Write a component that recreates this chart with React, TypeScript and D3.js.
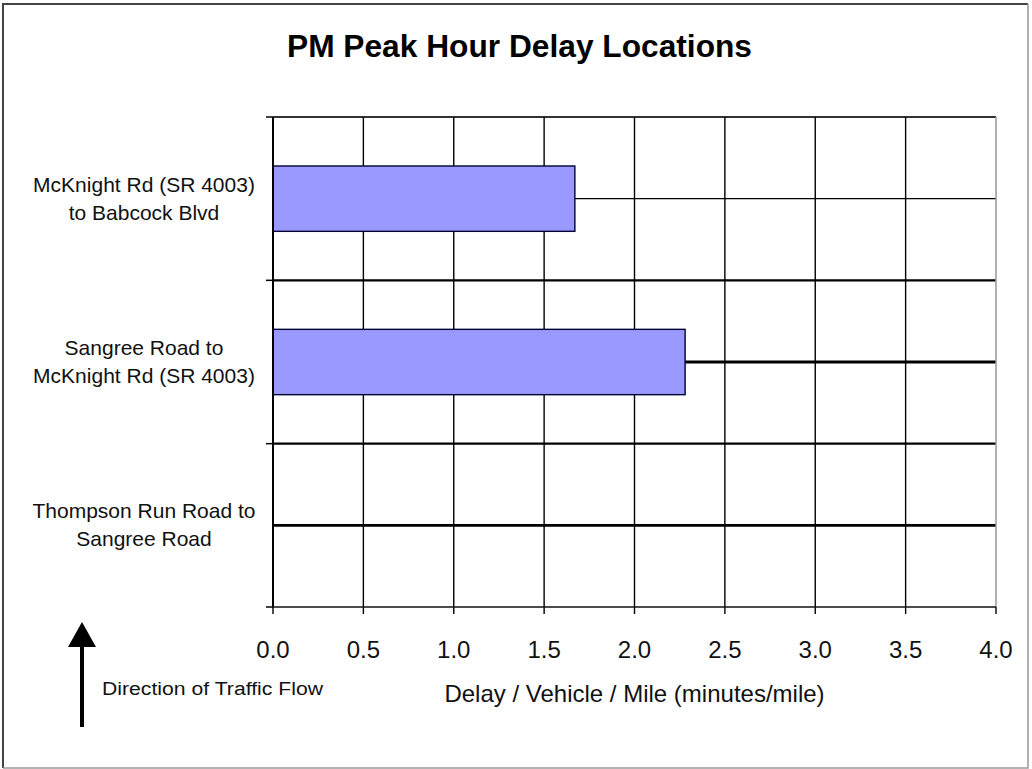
import React from "react";
import * as d3 from "d3";

// chart data
const categoryLines: string[][] = [
  ["McKnight Rd (SR 4003)", "to Babcock Blvd"],
  ["Sangree Road to", "McKnight Rd (SR 4003)"],
  ["Thompson Run Road to", "Sangree Road"],
];
const delays: number[] = [1.67, 2.28, 0];
const xTickValues: number[] = [0, 0.5, 1, 1.5, 2, 2.5, 3, 3.5, 4];
const title = "PM Peak Hour Delay Locations";
const xTitle = "Delay / Vehicle / Mile (minutes/mile)";
const noteText = "Direction of Traffic Flow";

const W = 1032;
const H = 769;
const font = "'Liberation Sans', Arial, sans-serif";

export default function App() {
  const plot = {left: 273, right: 996, top: 117, bottom: 607};

  const x = d3.scaleLinear().domain([0, 4]).range([plot.left, plot.right]);
  const y = d3
    .scaleBand<number>()
    .domain(d3.range(categoryLines.length))
    .range([plot.top, plot.bottom])
    .padding(0);

  const step = y.step();
  const barH = step / 2.5; // gap width 150%
  const centerWidths = [1.2, 2.8, 2.8];
  const boundaries = d3.range(categoryLines.length + 1).map((i) => plot.top + i * step);

  return (
    <svg
      width={W}
      height={H}
      style={{position: "absolute", left: 0, top: 0, background: "#fff"}}
      fontFamily={font}
    >
      {/* outer frame */}
      <path d={`M3,768 V4 H1028`} fill="none" stroke="#444" strokeWidth={2} />
      <path d={`M1028,4 V768 H3`} fill="none" stroke="#999" strokeWidth={1.5} />

      <text
        x={(287 + 752) / 2}
        y={57}
        textAnchor="middle"
        fontSize={32}
        fontWeight="bold"
        textLength={465}
        lengthAdjust="spacingAndGlyphs"
      >
        {title}
      </text>

      {/* lines through category centres */}
      {categoryLines.map((_, i) => (
        <line
          key={"c" + i}
          x1={plot.left}
          x2={plot.right}
          y1={y(i)! + step / 2}
          y2={y(i)! + step / 2}
          stroke="#000"
          strokeWidth={centerWidths[i]}
        />
      ))}

      {/* category boundaries */}
      {boundaries.map((b, i) => (
        <g key={"b" + i}>
          {i > 0 && i < categoryLines.length && (
            <line x1={plot.left} x2={plot.right} y1={b} y2={b} stroke="#000" strokeWidth={2.3} />
          )}
          <line x1={plot.left - 7} x2={plot.left} y1={b} y2={b} stroke="#000" strokeWidth={1.5} />
        </g>
      ))}
      <line x1={plot.left} x2={plot.right} y1={plot.top} y2={plot.top} stroke="#333" strokeWidth={1.8} />

      {/* vertical gridlines + ticks */}
      {xTickValues.map((t) => (
        <g key={"x" + t}>
          {t > 0 && t < 4 && (
            <line x1={x(t)} x2={x(t)} y1={plot.top} y2={plot.bottom} stroke="#000" strokeWidth={1.4} />
          )}
          <line x1={x(t)} x2={x(t)} y1={plot.bottom} y2={plot.bottom + 7} stroke="#000" strokeWidth={1.4} />
          <text x={x(t)} y={658} textAnchor="middle" fontSize={24} fill="#111">
            {d3.format(".1f")(t)}
          </text>
        </g>
      ))}
      <line x1={plot.right} x2={plot.right} y1={plot.top} y2={plot.bottom} stroke="#999" strokeWidth={1.5} />

      {/* bars */}
      {delays.map((v, i) =>
        v > 0 ? (
          <rect
            key={"bar" + i}
            x={x(0)}
            y={y(i)! + (step - barH) / 2}
            width={x(v) - x(0)}
            height={barH}
            fill="#9999FF"
            stroke="#000033"
            strokeWidth={1.4}
          />
        ) : null
      )}

      {/* axes */}
      <line x1={plot.left} x2={plot.left} y1={plot.top} y2={plot.bottom} stroke="#000" strokeWidth={2} />
      <line x1={plot.left} x2={plot.right} y1={plot.bottom} y2={plot.bottom} stroke="#111" strokeWidth={1.5} />

      {/* category labels */}
      {categoryLines.map((lines, i) => (
        <text key={"l" + i} textAnchor="middle" fontSize={21} fill="#111">
          {lines.map((ln, j) => (
            <tspan key={j} x={144} y={y(i)! + step / 2 - 7 + j * 28}>
              {ln}
            </tspan>
          ))}
        </text>
      ))}

      <text x={(plot.left + plot.right) / 2} y={702} textAnchor="middle" fontSize={24} fill="#111">
        {xTitle}
      </text>

      {/* traffic direction note */}
      <line x1={82} x2={82} y1={642} y2={727} stroke="#000" strokeWidth={4} />
      <path d="M68,647 L96,647 L82,622 Z" fill="#000" />
      <text x={102} y={695} fontSize={18} fill="#111" textLength={221} lengthAdjust="spacingAndGlyphs">
        {noteText}
      </text>
    </svg>
  );
}
